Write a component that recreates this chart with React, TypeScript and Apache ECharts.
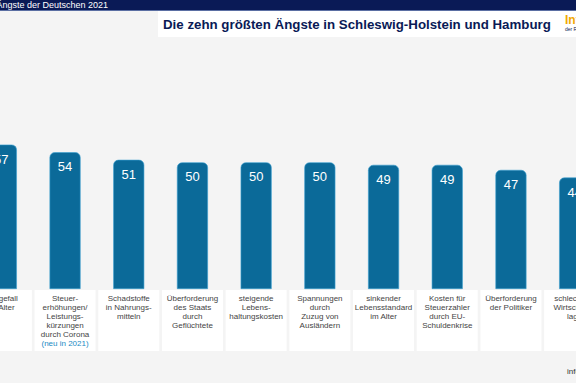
import React, { useEffect, useRef } from "react";
import * as echarts from "echarts";

const categories = [
  "Pflegefall\nim Alter",
  "Steuer-\nerhöhungen/\nLeistungs-\nkürzungen\ndurch Corona",
  "Schadstoffe\nin Nahrungs-\nmitteln",
  "Überforderung\ndes Staats\ndurch\nGeflüchtete",
  "steigende\nLebens-\nhaltungskosten",
  "Spannungen\ndurch\nZuzug von\nAusländern",
  "sinkender\nLebensstandard\nim Alter",
  "Kosten für\nSteuerzahler\ndurch EU-\nSchuldenkrise",
  "Überforderung\nder Politiker",
  "schlechtere\nWirtschafts-\nlage",
];
const notes = ["", "(neu in 2021)", "", "", "", "", "", "", "", ""];
const values = [57, 54, 51, 50, 50, 50, 49, 49, 47, 44];

const FONT = "'Liberation Sans', Arial, sans-serif";
const OX = 32; // offset of chart canvas to the left of the page

export default function App() {
  const ref = useRef<HTMLDivElement>(null);
  useEffect(() => {
    if (!ref.current) return;
    const chart = echarts.init(ref.current, undefined, { renderer: "svg" });
    chart.setOption({
      animation: false,
      backgroundColor: "#f4f4f4",
      textStyle: { fontFamily: FONT },
      grid: { left: 0, right: 0, top: 137, bottom: 94, containLabel: false },
      xAxis: {
        type: "category",
        data: categories,
        axisLine: { show: false },
        axisTick: { show: false },
        axisLabel: {
          interval: 0,
          hideOverlap: false,
          margin: 1,
          color: "#444",
          fontSize: 8,
          lineHeight: 9,
          fontFamily: FONT,
          backgroundColor: "#ffffff",
          width: 59,
          height: 57,
          padding: [4, 1, 0, 1],
          align: "center",
          verticalAlign: "top",
          overflow: "none",
          formatter: (v: string, i: number) =>
            notes[i] ? v + "\n{n|" + notes[i] + "}" : v,
          rich: {
            n: { color: "#1a8ac4", fontSize: 8, lineHeight: 9, fontFamily: FONT },
          },
        },
      },
      yAxis: {
        type: "value",
        min: 0,
        max: 60,
        show: false,
        splitLine: { show: false },
      },
      series: [
        {
          type: "bar",
          data: values,
          barWidth: 31,
          itemStyle: {
            color: "#0b6a99",
            borderRadius: [5, 5, 0, 0],
            borderColor: "#3a9fd0",
            borderWidth: 0.6,
          },
          label: {
            show: true,
            position: "insideTop",
            distance: 8,
            color: "#ffffff",
            fontSize: 13,
            fontFamily: FONT,
          },
        },
      ],
      graphic: [
        { type: "rect", shape: { x: 0, y: 0, width: 640, height: 10 }, style: { fill: "#0a1a56" } },
        { type: "rect", shape: { x: 0, y: 10, width: 640, height: 1 }, style: { fill: "#5b6fa3" } },
        {
          type: "text",
          x: 108 + OX,
          y: 5,
          style: {
            text: "Die größten Ängste der Deutschen 2021",
            fill: "#ffffff",
            fontSize: 9,
            fontFamily: FONT,
            align: "right",
            verticalAlign: "middle",
          },
        },
        { type: "rect", shape: { x: 158 + OX, y: 11, width: 450, height: 26 }, style: { fill: "#ffffff" } },
        {
          type: "text",
          x: 163 + OX,
          y: 24,
          style: {
            text: "Die zehn größten Ängste in Schleswig-Holstein und Hamburg",
            fill: "#0a1a56",
            fontSize: 13.3,
            fontWeight: "bold",
            fontFamily: FONT,
            verticalAlign: "middle",
          },
        },
        {
          type: "text",
          x: 565 + OX,
          y: 20,
          style: {
            text: "Info",
            fill: "#f2a900",
            fontSize: 12,
            fontWeight: "bold",
            fontFamily: FONT,
            verticalAlign: "middle",
          },
        },
        {
          type: "text",
          x: 565 + OX,
          y: 29,
          style: {
            text: "der R+V",
            fill: "#0a1a56",
            fontSize: 5,
            fontFamily: FONT,
            verticalAlign: "middle",
          },
        },
        {
          type: "text",
          x: 567 + OX,
          y: 371,
          style: {
            text: "infocenter.ruv.de",
            fill: "#333333",
            fontSize: 8,
            fontFamily: FONT,
            verticalAlign: "middle",
          },
        },
      ],
    });
    return () => chart.dispose();
  }, []);
  return (
    <div
      ref={ref}
      style={{ position: "fixed", left: -OX, top: 0, width: 576 + 2 * OX, height: 383 }}
    />
  );
}
